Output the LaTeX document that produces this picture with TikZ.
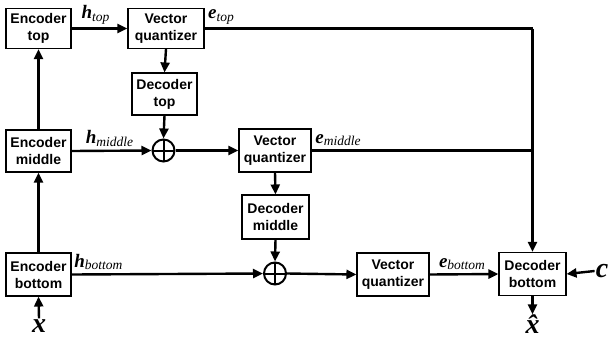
\documentclass[tikz,border=0pt]{standalone}
\usepackage{fontspec}
\setmainfont{Liberation Serif}
\setsansfont{Liberation Sans}
\usetikzlibrary{
    arrows.meta,
    positioning,
    calc
}
\newcommand{\sig}[2]{{\fontsize{19}{19}\selectfont\bfseries\itshape #1}\raisebox{-2.5pt}{\fontsize{13.5}{13.5}\selectfont\itshape #2}}
\newcommand{\inp}[1]{{\fontsize{28}{28}\selectfont\bfseries\itshape #1}}

\begin{document}
\begin{tikzpicture}[
    x=1pt, y=-1pt,
    >={Triangle[length=10pt,width=9pt]},
    block/.style={draw, line width=1.1pt, align=center, inner sep=2pt,
        font=\sffamily\bfseries\fontsize{14}{17}\selectfont},
    flow/.style={->, line width=2.4pt},
    adder/.style={circle, draw, line width=2pt, minimum size=22pt, inner sep=0pt,
        path picture={\draw[line width=2pt]
            (path picture bounding box.north) -- (path picture bounding box.south)
            (path picture bounding box.west) -- (path picture bounding box.east);}}
]
\useasboundingbox (0,0) rectangle (610,343);

% Encoders
\node[block, minimum width=65pt, minimum height=40pt] (enctop) at (38.5,28.5) {Encoder\\top};
\node[block, minimum width=65pt, minimum height=42pt] (encmid) at (38.5,151) {Encoder\\middle};
\node[block, minimum width=65pt, minimum height=43pt] (encbot) at (38.5,274.5) {Encoder\\bottom};

% Quantizers and decoders
\node[block, minimum width=76pt, minimum height=40pt] (vqtop) at (166,28.5) {Vector\\quantizer};
\node[block, minimum width=65pt, minimum height=42pt] (dectop) at (164.5,94) {Decoder\\top};
\node[block, minimum width=72pt, minimum height=43pt] (vqmid) at (275,150.5) {Vector\\quantizer};
\node[block, minimum width=67pt, minimum height=44pt] (decmid) at (275.5,217) {Decoder\\middle};
\node[block, minimum width=72pt, minimum height=43pt] (vqbot) at (393,274.5) {Vector\\quantizer};
\node[block, minimum width=67pt, minimum height=43pt] (decbot) at (532.5,274) {Decoder\\bottom};

% Adders
\node[adder] (addmid) at (163.5,150.5) {};
\node[adder] (addbot) at (275,273.5) {};

% Inputs and output
\node[inner sep=1pt] (xin) at (39,326) {\inp{x}};
\node[inner sep=1pt] (cin) at (602,271) {\inp{c}};
\node[inner sep=0pt] (xout) at (532.5,324) {\inp{\^{x}}};
\coordinate (join) at (decbot.north |- vqmid.east);

% Encoder chain
\draw[flow] (xin.north) -- (encbot.south);
\draw[flow] (encbot.north) -- (encmid.south);
\draw[flow] (encmid.north) -- (enctop.south);

% Top level
\draw[flow] (enctop.east) -- node[above, xshift=-4pt] {\sig{h}{top}} (vqtop.west);
\draw[flow] (vqtop.south) -- (dectop.north);
\draw[flow] (dectop.south) -- (addmid.north);

% Middle level
\draw[flow] (encmid.east) -- node[above, xshift=-2pt] {\sig{h}{middle}} (addmid.west);
\draw[flow] (addmid.east) -- (vqmid.west);
\draw[flow] (vqmid.south) -- (decmid.north);
\draw[flow] (decmid.south) -- (addbot.north);

% Bottom level
\draw[flow] (encbot.east) -- node[above, pos=0.14] {\sig{h}{bottom}} (addbot.west);
\draw[flow] (addbot.east) -- (vqbot.west);
\draw[flow] (vqbot.east) -- node[above, xshift=-2pt] {\sig{e}{bottom}} (decbot.west);

% Codes to decoder
\draw[line width=2.4pt] (vqtop.east) -- node[above, pos=0.05] {\sig{e}{top}} (vqtop.east -| join);
\draw[line width=2.4pt] (vqmid.east) -- node[above, pos=0.12] {\sig{e}{middle}} (join);
\draw[flow] (vqtop.east -| join) -- (decbot.north);
\draw[flow] (cin.west) -- (decbot.east);
\draw[flow] (decbot.south) -- (xout.north);

\end{tikzpicture}
\end{document}
